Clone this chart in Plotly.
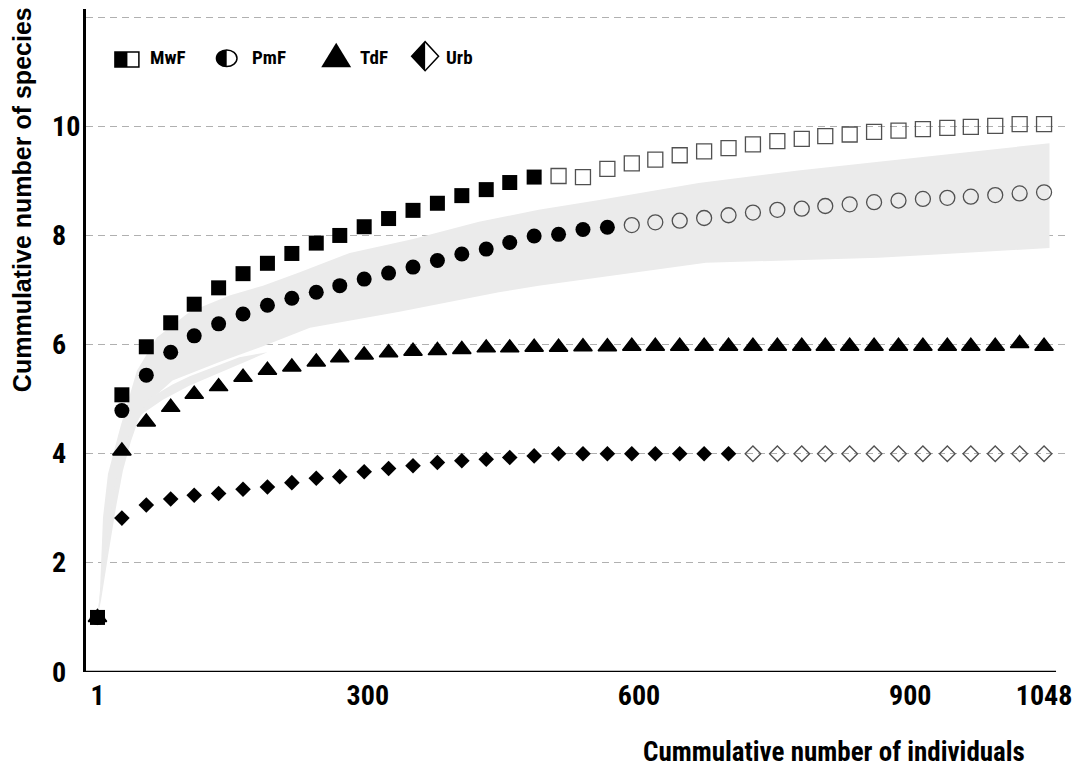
import plotly.graph_objects as go

# ---------------- data ----------------
individuals = [1, 28, 55, 82, 108, 135, 162, 189, 216, 243, 269, 296, 323, 350, 377,
               404, 431, 457, 484, 511, 538, 565, 592, 618, 645, 672, 699, 726, 753,
               780, 806, 833, 860, 887, 914, 941, 967, 994, 1021, 1048]

mwf = [1.0, 5.08, 5.96, 6.40, 6.74, 7.04, 7.30, 7.49, 7.67, 7.86, 8.00, 8.16, 8.31,
       8.46, 8.59, 8.73, 8.84, 8.97, 9.07,
       9.09, 9.07, 9.22, 9.32, 9.39, 9.47, 9.54, 9.60, 9.67, 9.73, 9.77, 9.82, 9.85,
       9.90, 9.92, 9.95, 9.97, 9.99, 10.01, 10.04, 10.04]
mwf_observed = 19

pmf = [1.0, 4.79, 5.44, 5.86, 6.16, 6.38, 6.56, 6.72, 6.85, 6.96, 7.08, 7.20, 7.31,
       7.42, 7.54, 7.66, 7.75, 7.87, 7.99, 8.02, 8.11, 8.15,
       8.19, 8.24, 8.27, 8.32, 8.37, 8.42, 8.47, 8.49, 8.54, 8.57, 8.61, 8.64, 8.67,
       8.69, 8.71, 8.74, 8.77, 8.79]
pmf_observed = 22

tdf = [1.0, 4.05, 4.58, 4.85, 5.09, 5.23, 5.40, 5.53, 5.59, 5.68, 5.76, 5.81, 5.85,
       5.88, 5.89, 5.91, 5.94, 5.94, 5.95,
       5.95, 5.96, 5.96, 5.97, 5.97, 5.97, 5.97, 5.97, 5.97, 5.97, 5.97, 5.97, 5.97,
       5.97, 5.97, 5.97, 5.97, 5.97, 5.97, 6.02, 5.97]
tdf_observed = 40

urb = [1.0, 2.82, 3.06, 3.17, 3.24, 3.27, 3.35, 3.39, 3.47, 3.55, 3.58, 3.67, 3.73,
       3.78, 3.84, 3.87, 3.90, 3.93, 3.96,
       4.0, 4.0, 4.0, 4.0, 4.0, 4.0, 4.0, 4.0,
       4.0, 4.0, 4.0, 4.0, 4.0, 4.0, 4.0, 4.0, 4.0, 4.0, 4.0, 4.0, 4.0]
urb_observed = 27

# confidence band around PmF (upper edge left->right, lower edge right->left)
band_a_upper_x = [1, 3.8, 7.1, 12.6, 25.8, 44.6, 66.7, 103, 147, 184, 224, 280, 349,
                  423, 489, 556, 666, 776, 865, 1054]
band_a_upper_y = [1.0, 1.50, 2.83, 3.63, 4.46, 5.52, 6.13, 6.60, 6.90, 7.08, 7.32,
                  7.68, 7.93, 8.25, 8.47, 8.65, 8.96, 9.19, 9.35, 9.69]
band_a_lower_x = [1054, 865, 674, 556, 489, 445, 335, 236, 184, 136, 84, 59, 37, 20,
                  9.3, 2.7]
band_a_lower_y = [7.77, 7.59, 7.50, 7.23, 7.08, 6.96, 6.60, 6.31, 5.97, 5.68, 5.34,
                  4.97, 4.37, 3.32, 2.04, 1.22]

# confidence band around TdF (lower edge left->right, upper edge right->left)
band_b_lower_x = [1, 4.9, 13.7, 21.4, 29.1, 38, 47.9, 73.3, 103, 133, 158, 189]
band_b_lower_y = [1.0, 1.31, 2.23, 3.01, 3.69, 4.23, 4.70, 4.99, 5.25, 5.46, 5.64, 5.86]
band_b_upper_x = [158, 136, 103, 84, 59, 37, 20, 9.3, 2.7]
band_b_upper_y = [5.77, 5.63, 5.42, 5.27, 5.02, 4.44, 3.40, 2.11, 1.28]

x_tick_vals = [1, 300, 600, 900, 1048]
y_tick_vals = [0, 2, 4, 6, 8, 10]
y_grid_vals = [2, 4, 6, 8, 10, 12]
legend_labels = ["MwF", "PmF", "TdF", "Urb"]

x_title = "Cummulative number of individuals"
y_title = "Cummulative number of species"

# ---------------- styling / layout helpers ----------------
W, H = 1077, 774
PL, PR, PT, PB = 86, 1072, 9, 672   # plot area in pixels


def X(px):
    return (px - PL) / (PR - PL)


def Y(py):
    return (PB - py) / (PB - PT)


NARROW = "Roboto Condensed, Liberation Sans, Arial, sans-serif"
REG = "Liberation Sans, Arial, sans-serif"
BAND = "#ebebeb"
OPEN = "#505050"

fig = go.Figure()

fig.add_trace(go.Scatter(
    x=band_a_upper_x + band_a_lower_x, y=band_a_upper_y + band_a_lower_y,
    fill="toself", fillcolor=BAND, mode="lines", line=dict(width=0, color=BAND),
    hoverinfo="skip", showlegend=False))
fig.add_trace(go.Scatter(
    x=band_b_lower_x + band_b_upper_x, y=band_b_lower_y + band_b_upper_y,
    fill="toself", fillcolor=BAND, mode="lines", line=dict(width=0, color=BAND),
    hoverinfo="skip", showlegend=False))


def add_series(vals, n_obs, sym, size, line_w=0):
    fig.add_trace(go.Scatter(
        x=individuals[:n_obs], y=vals[:n_obs], mode="markers", showlegend=False,
        marker=dict(symbol=sym, size=size, color="black",
                    line=dict(width=line_w, color="black"))))
    if n_obs < len(vals):
        fig.add_trace(go.Scatter(
            x=individuals[n_obs:], y=vals[n_obs:], mode="markers", showlegend=False,
            marker=dict(symbol=sym + "-open", size=size, color=OPEN,
                        line=dict(width=1.3, color=OPEN))))


add_series(urb, urb_observed, "diamond", 12)
add_series(tdf, tdf_observed, "triangle-up", 16, 1.5)
add_series(pmf, pmf_observed, "circle", 15)
add_series(mwf, mwf_observed, "square", 15)

shapes = []
# x axis line (stops short of the gridlines, as in the original)
shapes.append(dict(type="line", xref="paper", yref="y", x0=0, x1=X(1058), y0=0, y1=0,
                   line=dict(color="black", width=2.5), layer="above"))

# legend icons
shapes.append(dict(type="rect", xref="paper", yref="paper", x0=X(115), x1=X(139),
                   y0=Y(67), y1=Y(52), fillcolor="white",
                   line=dict(color="black", width=1.5)))
shapes.append(dict(type="rect", xref="paper", yref="paper", x0=X(115), x1=X(127.5),
                   y0=Y(67), y1=Y(52), fillcolor="black", line=dict(width=0)))

cx, cy, rx, ry = 227.0, 58.3, 10.3, 8.3
shapes.append(dict(type="circle", xref="paper", yref="paper", x0=X(cx - rx),
                   x1=X(cx + rx), y0=Y(cy + ry), y1=Y(cy - ry), fillcolor="white",
                   line=dict(color="black", width=1.5)))
k = 0.5523
p = (f"M{X(cx)},{Y(cy - ry)} "
     f"C{X(cx - k * rx)},{Y(cy - ry)} {X(cx - rx)},{Y(cy - k * ry)} {X(cx - rx)},{Y(cy)} "
     f"C{X(cx - rx)},{Y(cy + k * ry)} {X(cx - k * rx)},{Y(cy + ry)} {X(cx)},{Y(cy + ry)} Z")
shapes.append(dict(type="path", xref="paper", yref="paper", path=p,
                   fillcolor="black", line=dict(width=0)))

p = f"M{X(321.7)},{Y(67.3)} L{X(351.7)},{Y(67.3)} L{X(336.7)},{Y(42.7)} Z"
shapes.append(dict(type="path", xref="paper", yref="paper", path=p,
                   fillcolor="black", line=dict(width=0)))

p = (f"M{X(412.3)},{Y(56.2)} L{X(425.8)},{Y(41.7)} L{X(439.3)},{Y(56.2)} "
     f"L{X(425.8)},{Y(70.7)} Z")
shapes.append(dict(type="path", xref="paper", yref="paper", path=p,
                   fillcolor="white", line=dict(color="black", width=1.5)))
p = f"M{X(412.3)},{Y(56.2)} L{X(425.8)},{Y(41.7)} L{X(425.8)},{Y(70.7)} Z"
shapes.append(dict(type="path", xref="paper", yref="paper", path=p,
                   fillcolor="black", line=dict(width=0)))

annotations = []
for v in y_tick_vals:
    annotations.append(dict(x=X(50), xref="paper", xanchor="left", y=v, yref="y",
                            yanchor="middle", text=f"<b>{v}</b>", showarrow=False,
                            font=dict(family=NARROW, size=28, color="black")))

annotations.append(dict(x=X(22), y=Y(200), xref="paper", yref="paper", textangle=-90,
                        xanchor="center", yanchor="middle", showarrow=False,
                        text=f"<b>{y_title}</b>",
                        font=dict(family=REG, size=25, color="black")))
annotations.append(dict(x=X(836), y=Y(752), xref="paper", yref="paper",
                        xanchor="center", yanchor="middle", showarrow=False,
                        text=f"<b>{x_title}</b>",
                        font=dict(family=NARROW, size=27, color="black")))

for lab, lx in zip(legend_labels, [148, 250.7, 358.3, 445]):
    annotations.append(dict(x=X(lx), y=Y(58), xref="paper", yref="paper",
                            xanchor="left", yanchor="middle", showarrow=False,
                            text=f"<b>{lab}</b>",
                            font=dict(family=NARROW, size=19, color="black")))

x_per_px = (1048 - 1) / (1046 - 97.5)
x_range = [1 + (PL - 97.5) * x_per_px, 1 + (PR - 97.5) * x_per_px]

fig.update_layout(
    width=W, height=H,
    margin=dict(l=PL, r=W - PR, t=PT, b=H - PB, pad=0),
    paper_bgcolor="white", plot_bgcolor="white",
    showlegend=False,
    shapes=shapes, annotations=annotations,
    xaxis=dict(range=x_range, tickvals=x_tick_vals, ticktext=[f"<b>{v}</b>" for v in x_tick_vals],
               showgrid=False, zeroline=False, showline=False, ticks="",
               ticklabeloverflow="allow", ticklabelstandoff=4,
               tickfont=dict(family=NARROW, size=28, color="black"),
               fixedrange=True),
    yaxis=dict(range=[0, 12.15], tickvals=y_grid_vals, showticklabels=False,
               showgrid=True, gridcolor="#b0b0b0", gridwidth=1.3, griddash="7px,5px",
               zeroline=False, showline=True, linecolor="black", linewidth=2.5,
               ticks="", fixedrange=True),
)

fig.write_html("out.html")
